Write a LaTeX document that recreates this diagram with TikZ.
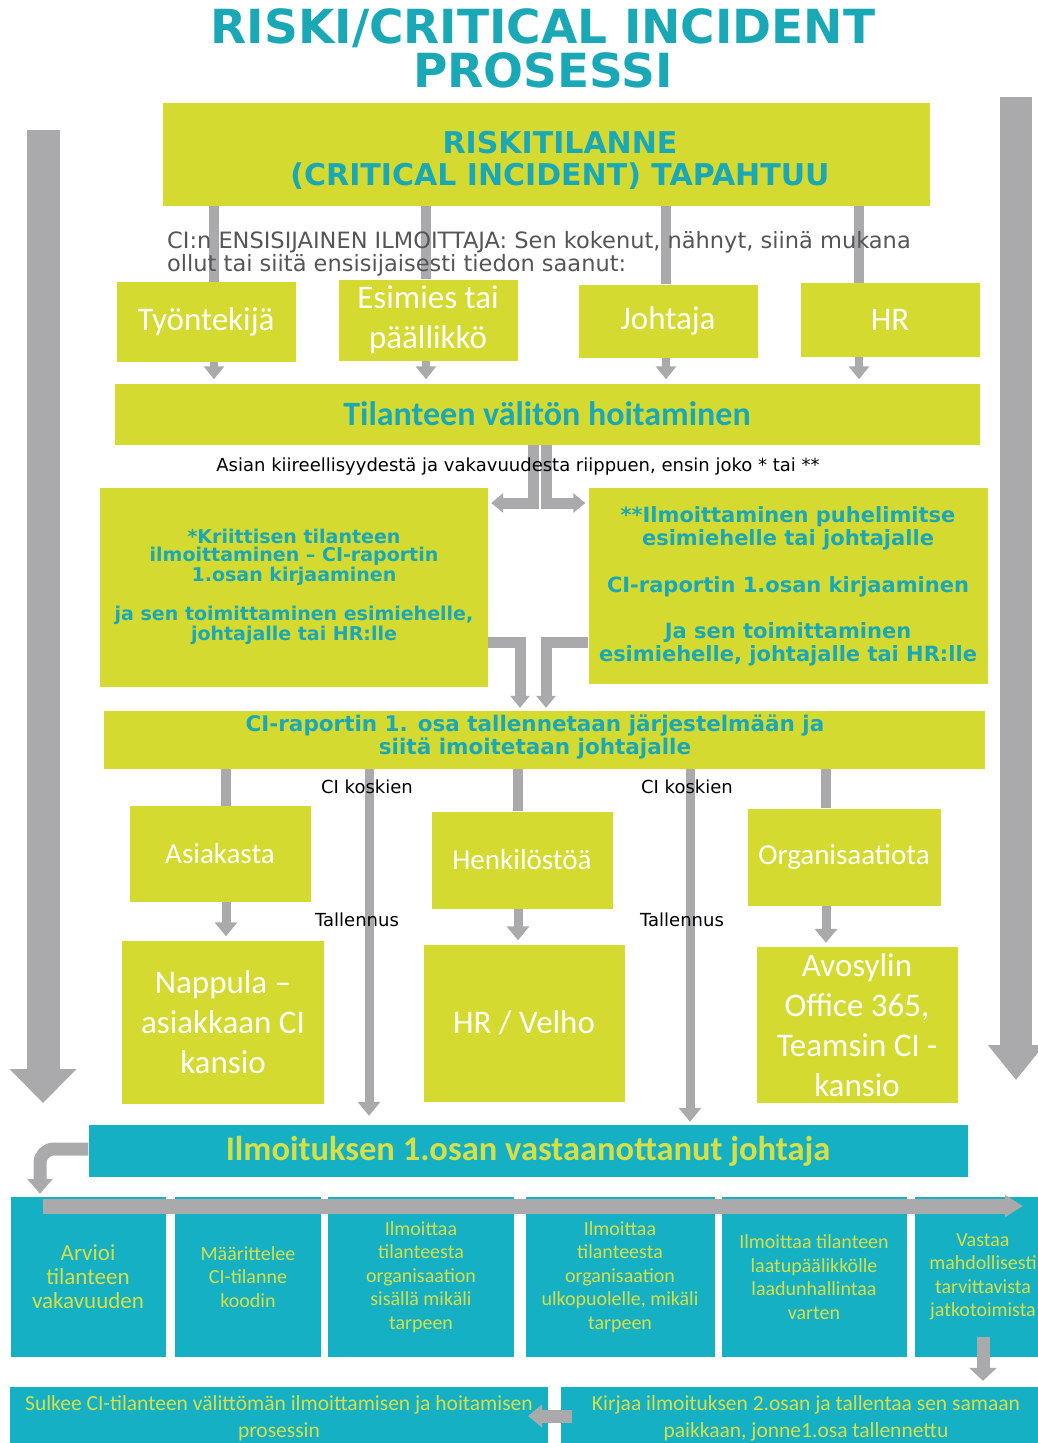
\documentclass[tikz,border=0pt]{standalone}
\usepackage{fontspec}
\usepackage{tikz}
\usetikzlibrary{arrows.meta,positioning}

\newfontfamily\carlito{Carlito}
\newfontfamily\dejavu{DejaVu Sans}

\definecolor{limegr}{RGB}{212,218,48}
\definecolor{tealtx}{RGB}{27,168,182}
\definecolor{tealbx}{RGB}{22,176,197}
\definecolor{limetx}{RGB}{214,224,70}
\definecolor{grayar}{RGB}{170,170,172}
\definecolor{greytx}{RGB}{85,85,85}

\begin{document}
\begin{tikzpicture}[
                    x=1pt, y=-1pt,
                    limebox/.style={
                        fill=limegr,
                        inner sep=0pt,
                        align=center,
                        text=white,
                        font=\carlito\fontsize{33}{40}\selectfont
                    },
                    headbox/.style={
                        limebox,
                        text=tealtx,
                        font=\dejavu\bfseries\fontsize{19}{18}\selectfont
                    },
                    rowbox/.style={
                        fill=tealbx,
                        inner sep=0pt,
                        align=center,
                        text=limetx,
                        minimum height=160pt,
                        font=\carlito\fontsize{20}{23.5}\selectfont
                    },
                    note/.style={inner sep=0pt, font=\dejavu\fontsize{18}{20}\selectfont},
                    gline/.style={draw=grayar, line width=10pt},
                    garrow/.style={draw=grayar, line width=9pt, shorten >=4pt,
                        -{Triangle[width=22pt,length=14pt]}},
                    tarrow/.style={draw=grayar, line width=11pt, shorten >=3pt,
                        -{Triangle[width=19pt,length=12pt]}},
                    bigarrow/.style={draw=grayar, line width=33pt,
                        -{Triangle[width=65pt,length=34pt]}}
                ]
                    \useasboundingbox (0,0) rectangle (1038,1443);

                    \node[inner sep=0pt, align=center, text=tealtx,
                          font=\dejavu\bfseries\fontsize{47}{44}\selectfont] (ttl) at (543,48)
                          {RISKI/CRITICAL INCIDENT\\PROSESSI};

                    \node[limebox, minimum width=767pt, minimum height=103pt, text=tealtx,
                          font=\dejavu\bfseries\fontsize{30}{32}\selectfont,
                          label={[align=center, text=tealtx, font=\dejavu\bfseries\fontsize{30}{32}\selectfont,
                                  xshift=14pt, yshift=-6pt]center:{RISKITILANNE\\(CRITICAL INCIDENT) TAPAHTUU}}]
                          (rt) at (546,154) {};

                    \node[limebox, minimum width=179pt, minimum height=80pt] (wrk) at (206,322) {Työntekijä};
                    \node[limebox, minimum width=179pt, minimum height=81pt] (esi) at (428,320) {Esimies tai\\päällikkö};
                    \node[limebox, minimum width=179pt, minimum height=73pt] (joh) at (668,321) {Johtaja};
                    \node[limebox, minimum width=179pt, minimum height=74pt] (hr) at (890,320) {HR};

                    \node[limebox, minimum width=865pt, minimum height=61pt, text=tealtx,
                          font=\carlito\bfseries\fontsize{34}{36}\selectfont] (hoito) at (547,414)
                          {Tilanteen välitön hoitaminen};

                    \node[headbox, minimum width=388pt, minimum height=199pt] (kriit) at (294,587)
                          {*Kriittisen tilanteen\\ilmoittaminen – CI-raportin\\1.osan kirjaaminen\\[20pt]
                           ja sen toimittaminen esimiehelle,\\johtajalle tai HR:lle};
                    \node[headbox, minimum width=399pt, minimum height=196pt,
                          font=\dejavu\bfseries\fontsize{21}{23}\selectfont] (puhe) at (788,586)
                          {**Ilmoittaminen puhelimitse\\esimiehelle tai johtajalle\\[24pt]
                           CI-raportin 1.osan kirjaaminen\\[23pt]
                           Ja sen toimittaminen\\esimiehelle, johtajalle tai HR:lle};

                    \node[headbox, minimum width=881pt, minimum height=58pt,
                          font=\dejavu\bfseries\fontsize{21.5}{18}\selectfont,
                          label={[align=center, text=tealtx, font=\dejavu\bfseries\fontsize{21.5}{18}\selectfont,
                                  xshift=-9pt, yshift=3pt]center:{CI-raportin 1. osa tallennetaan järjestelmään ja\\siitä imoitetaan johtajalle}}]
                          (tall) at (544,740) {};

                    \node[limebox, minimum width=181pt, minimum height=96pt,
                          font=\carlito\fontsize{29}{30}\selectfont] (asiak) at (220,854) {Asiakasta};
                    \node[limebox, minimum width=181pt, minimum height=97pt,
                          font=\carlito\fontsize{29}{30}\selectfont] (henk) at (522,860) {Henkilöstöä};
                    \node[limebox, minimum width=193pt, minimum height=97pt,
                          font=\carlito\fontsize{29}{30}\selectfont] (org) at (844,857) {Organisaatiota};

                    \node[limebox, minimum width=202pt, minimum height=163pt] (napp) at (223,1022)
                          {Nappula –\\asiakkaan CI\\kansio};
                    \node[limebox, minimum width=201pt, minimum height=157pt] (velho) at (524,1023)
                          {HR / Velho};
                    \node[limebox, minimum width=201pt, minimum height=156pt] (avo) at (857,1025)
                          {Avosylin\\Office 365,\\Teamsin CI -\\kansio};

                    \node[rowbox, minimum width=879pt, minimum height=52pt,
                          font=\carlito\bfseries\fontsize{34.5}{36}\selectfont] (vast) at (528,1151)
                          {Ilmoituksen 1.osan vastaanottanut johtaja};

                    \node[rowbox, minimum width=155pt, font=\carlito\fontsize{23}{24}\selectfont] (b1) at (88,1277)
                          {Arvioi\\tilanteen\\vakavuuden};
                    \node[rowbox, minimum width=146pt] (b2) at (248,1277) {Määrittelee\\CI-tilanne\\koodin};
                    \node[rowbox, minimum width=186pt] (b3) at (421,1277)
                          {Ilmoittaa\\tilanteesta\\organisaation\\sisällä mikäli\\tarpeen};
                    \node[rowbox, minimum width=189pt] (b4) at (620,1277)
                          {Ilmoittaa\\tilanteesta\\organisaation\\ulkopuolelle, mikäli\\tarpeen};
                    \node[rowbox, minimum width=185pt] (b5) at (814,1277)
                          {Ilmoittaa tilanteen\\laatupäälikkölle\\laadunhallintaa\\varten};
                    \node[rowbox, minimum width=136pt] (b6) at (983,1277)
                          {Vastaa\\mahdollisesti\\tarvittavista\\jatkotoimista};

                    \node[rowbox, minimum width=538pt, minimum height=62pt,
                          font=\carlito\fontsize{21.5}{27}\selectfont] (sulk) at (279,1418)
                          {Sulkee CI-tilanteen välittömän ilmoittamisen ja hoitamisen\\prosessin};
                    \node[rowbox, minimum width=490pt, minimum height=62pt,
                          font=\carlito\fontsize{21.5}{27}\selectfont] (kirj) at (806,1418)
                          {Kirjaa ilmoituksen 2.osan ja tallentaa sen samaan\\paikkaan, jonne1.osa tallennettu};

                    % Edges
                    \foreach \nm/\xx in {wrk/214, esi/426, joh/666, hr/859} {
                        \draw[gline] (\xx,0 |- rt.south) -- (\xx,0 |- \nm.north);
                        \draw[garrow, line width=8pt, -{Triangle[width=20pt,length=13pt]}]
                            (\xx,0 |- \nm.south) -- (\xx,0 |- hoito.north);
                    }
                    \node[anchor=north west, inner sep=0pt, align=left, text=greytx,
                          font=\dejavu\fontsize{22.5}{21}\selectfont] (ens) at (167,231)
                          {CI:n ENSISIJAINEN ILMOITTAJA: Sen kokenut, nähnyt, siinä mukana\\
                           ollut tai siitä ensisijaisesti tiedon saanut:};

                    \draw[tarrow] (533,0 |- hoito.south) |- (kriit.east |- 0,503);
                    \draw[tarrow] (546,0 |- hoito.south) |- (puhe.west |- 0,503);
                    \node[note] (kiire) at (518,467)
                          {Asian kiireellisyydestä ja vakavuudesta riippuen, ensin joko * tai **};

                    \draw[tarrow] (kriit.east |- 0,642) -| (520,0 |- tall.north);
                    \draw[tarrow] (puhe.west |- 0,642) -| (546,0 |- tall.north);

                    \foreach \nm/\tg/\xx in {asiak/napp/226, henk/velho/518, org/avo/826} {
                        \draw[gline] (\xx,0 |- tall.south) -- (\xx,0 |- \nm.north);
                        \draw[garrow] (\xx,0 |- \nm.south) -- (\xx,0 |- \tg.north);
                    }
                    \draw[garrow, shorten >=9pt] (369,0 |- tall.south) -- (369,0 |- vast.north);
                    \draw[garrow, shorten >=3pt] (690,0 |- tall.south) -- (690,0 |- vast.north);
                    \node[note] (ck1) at (367,787) {CI koskien};
                    \node[note] (ck2) at (687,787) {CI koskien};
                    \node[note] (tl1) at (357,920) {Tallennus};
                    \node[note] (tl2) at (682,920) {Tallennus};

                    % side arrows
                    \coordinate (ltop) at (43,130);
                    \coordinate (lbot) at (43,1103);
                    \coordinate (rtop) at (1016,97);
                    \coordinate (rbot) at (1016,1080);
                    \draw[bigarrow] (ltop) -- (lbot);
                    \draw[bigarrow, line width=32pt, -{Triangle[width=54pt,length=35pt]}] (rtop) -- (rbot);

                    % bottom flow
                    \draw[draw=grayar, line width=13pt, rounded corners=14pt, shorten >=3pt,
                          -{Triangle[width=25pt,length=15pt]}] (vast.west |- 0,1149) -| (40,0 |- b1.north);
                    \coordinate (rs) at (43,1206);
                    \coordinate (re) at (1023,1206);
                    \draw[draw=grayar, line width=15pt, -{Triangle[width=21pt,length=18pt]}] (rs) -- (re);
                    \coordinate (dn) at (983,1337);
                    \draw[draw=grayar, line width=13pt, shorten >=6pt,
                          -{Triangle[width=27pt,length=13pt]}] (dn) -- (dn |- kirj.north);
                    \coordinate (ls) at (572,1416);
                    \coordinate (le) at (528,1416);
                    \draw[draw=grayar, line width=13pt, -{Triangle[width=22pt,length=14pt]}] (ls) -- (le);
                \end{tikzpicture}
\end{document}
